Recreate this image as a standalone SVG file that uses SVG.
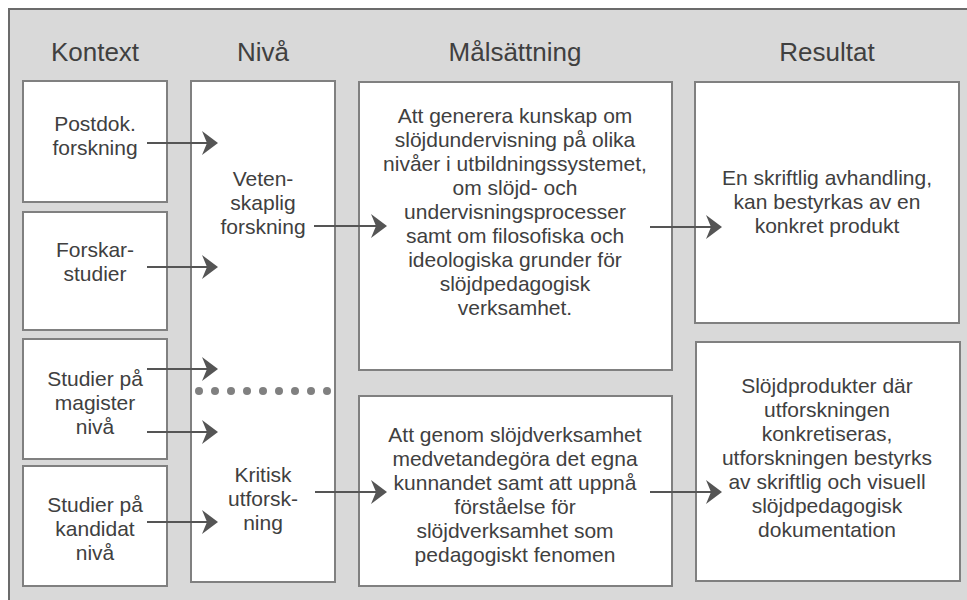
<svg xmlns="http://www.w3.org/2000/svg" width="967" height="600" viewBox="0 0 967 600">
  <style>
    .frame { fill: #d9d9d9; stroke: #6b6b6b; stroke-width: 2; }
    .box { fill: #ffffff; stroke: #808080; stroke-width: 2; }
    .head { font-family: "Liberation Sans", Arial, sans-serif; font-size: 26px; fill: #404040; text-anchor: middle; }
    .txt { font-family: "Liberation Sans", Arial, sans-serif; font-size: 21px; fill: #404040; text-anchor: middle; }
    .link { stroke: #555555; stroke-width: 2; fill: none; marker-end: url(#arrow); }
    .dot { fill: #808080; }
  </style>
  <defs>
    <marker id="arrow" markerUnits="userSpaceOnUse" viewBox="0 0 16 24" refX="5" refY="12" markerWidth="16" markerHeight="24" orient="auto">
      <path d="M0,0 L16,12 L0,24 L5,12 Z" fill="#555555"/>
    </marker>
  </defs>

  <rect width="967" height="600" fill="#ffffff"/>
  <rect class="frame" x="9" y="9" width="970" height="600"/>

  <!-- column headings -->
  <g id="headings">
    <text class="head" x="95" y="61">Kontext</text>
    <text class="head" x="263" y="61">Nivå</text>
    <text class="head" x="515" y="61">Målsättning</text>
    <text class="head" x="827" y="61">Resultat</text>
  </g>

  <!-- context column -->
  <g id="ctx-postdok">
    <rect class="box" x="23" y="81" width="144" height="121"/>
    <text class="txt" x="95" y="131">Postdok.</text>
    <text class="txt" x="95" y="155">forskning</text>
  </g>
  <g id="ctx-forskar">
    <rect class="box" x="23" y="212" width="144" height="118"/>
    <text class="txt" x="95" y="257">Forskar-</text>
    <text class="txt" x="95" y="281">studier</text>
  </g>
  <g id="ctx-magister">
    <rect class="box" x="23" y="339" width="144" height="120"/>
    <text class="txt" x="95" y="386">Studier på</text>
    <text class="txt" x="95" y="410">magister</text>
    <text class="txt" x="95" y="434">nivå</text>
  </g>
  <g id="ctx-kandidat">
    <rect class="box" x="23" y="466" width="144" height="120"/>
    <text class="txt" x="95" y="512">Studier på</text>
    <text class="txt" x="95" y="536">kandidat</text>
    <text class="txt" x="95" y="560">nivå</text>
  </g>

  <!-- level column -->
  <g id="level">
    <rect class="box" x="191" y="81" width="144" height="501"/>
    <text class="txt" x="263" y="186">Veten-</text>
    <text class="txt" x="263" y="210">skaplig</text>
    <text class="txt" x="263" y="234">forskning</text>
    <g id="level-divider">
      <circle class="dot" cx="199" cy="391" r="4"/>
      <circle class="dot" cx="215" cy="391" r="4"/>
      <circle class="dot" cx="231" cy="391" r="4"/>
      <circle class="dot" cx="247" cy="391" r="4"/>
      <circle class="dot" cx="263" cy="391" r="4"/>
      <circle class="dot" cx="279" cy="391" r="4"/>
      <circle class="dot" cx="295" cy="391" r="4"/>
      <circle class="dot" cx="311" cy="391" r="4"/>
      <circle class="dot" cx="327" cy="391" r="4"/>
    </g>
    <text class="txt" x="263" y="482">Kritisk</text>
    <text class="txt" x="263" y="506">utforsk-</text>
    <text class="txt" x="263" y="530">ning</text>
  </g>

  <!-- aims column -->
  <g id="aim-research">
    <rect class="box" x="359" y="82" width="313" height="288"/>
    <text class="txt" x="515" y="123">Att generera kunskap om</text>
    <text class="txt" x="515" y="147">slöjdundervisning på olika</text>
    <text class="txt" x="515" y="171">nivåer i utbildningssystemet,</text>
    <text class="txt" x="515" y="195">om slöjd- och</text>
    <text class="txt" x="515" y="219">undervisningsprocesser</text>
    <text class="txt" x="515" y="243">samt om filosofiska och</text>
    <text class="txt" x="515" y="267">ideologiska grunder för</text>
    <text class="txt" x="515" y="291">slöjdpedagogisk</text>
    <text class="txt" x="515" y="315">verksamhet.</text>
  </g>
  <g id="aim-exploration">
    <rect class="box" x="359" y="396" width="313" height="190"/>
    <text class="txt" x="515" y="442">Att genom slöjdverksamhet</text>
    <text class="txt" x="515" y="466">medvetandegöra det egna</text>
    <text class="txt" x="515" y="490">kunnandet samt att uppnå</text>
    <text class="txt" x="515" y="514">förståelse för</text>
    <text class="txt" x="515" y="538">slöjdverksamhet som</text>
    <text class="txt" x="515" y="562">pedagogiskt fenomen</text>
  </g>

  <!-- results column -->
  <g id="result-thesis">
    <rect class="box" x="695" y="82" width="264" height="241"/>
    <text class="txt" x="827" y="185">En skriftlig avhandling,</text>
    <text class="txt" x="827" y="209">kan bestyrkas av en</text>
    <text class="txt" x="827" y="233">konkret produkt</text>
  </g>
  <g id="result-products">
    <rect class="box" x="696" y="342" width="264" height="239"/>
    <text class="txt" x="827" y="393">Slöjdprodukter där</text>
    <text class="txt" x="827" y="417">utforskningen</text>
    <text class="txt" x="827" y="441">konkretiseras,</text>
    <text class="txt" x="827" y="465">utforskningen bestyrks</text>
    <text class="txt" x="827" y="489">av skriftlig och visuell</text>
    <text class="txt" x="827" y="513">slöjdpedagogisk</text>
    <text class="txt" x="827" y="537">dokumentation</text>
  </g>

  <!-- connectors: each line ends at the arrowhead notch (tip - 11) -->
  <g id="connectors">
    <path class="link" d="M147,143 H207"/>
    <path class="link" d="M147,267 H207"/>
    <path class="link" d="M147,369 H207"/>
    <path class="link" d="M147,432 H207"/>
    <path class="link" d="M147,522 H207"/>
    <path class="link" d="M314,226 H376"/>
    <path class="link" d="M650,227 H711"/>
    <path class="link" d="M315,492 H376"/>
    <path class="link" d="M650,492 H711"/>
  </g>
</svg>
